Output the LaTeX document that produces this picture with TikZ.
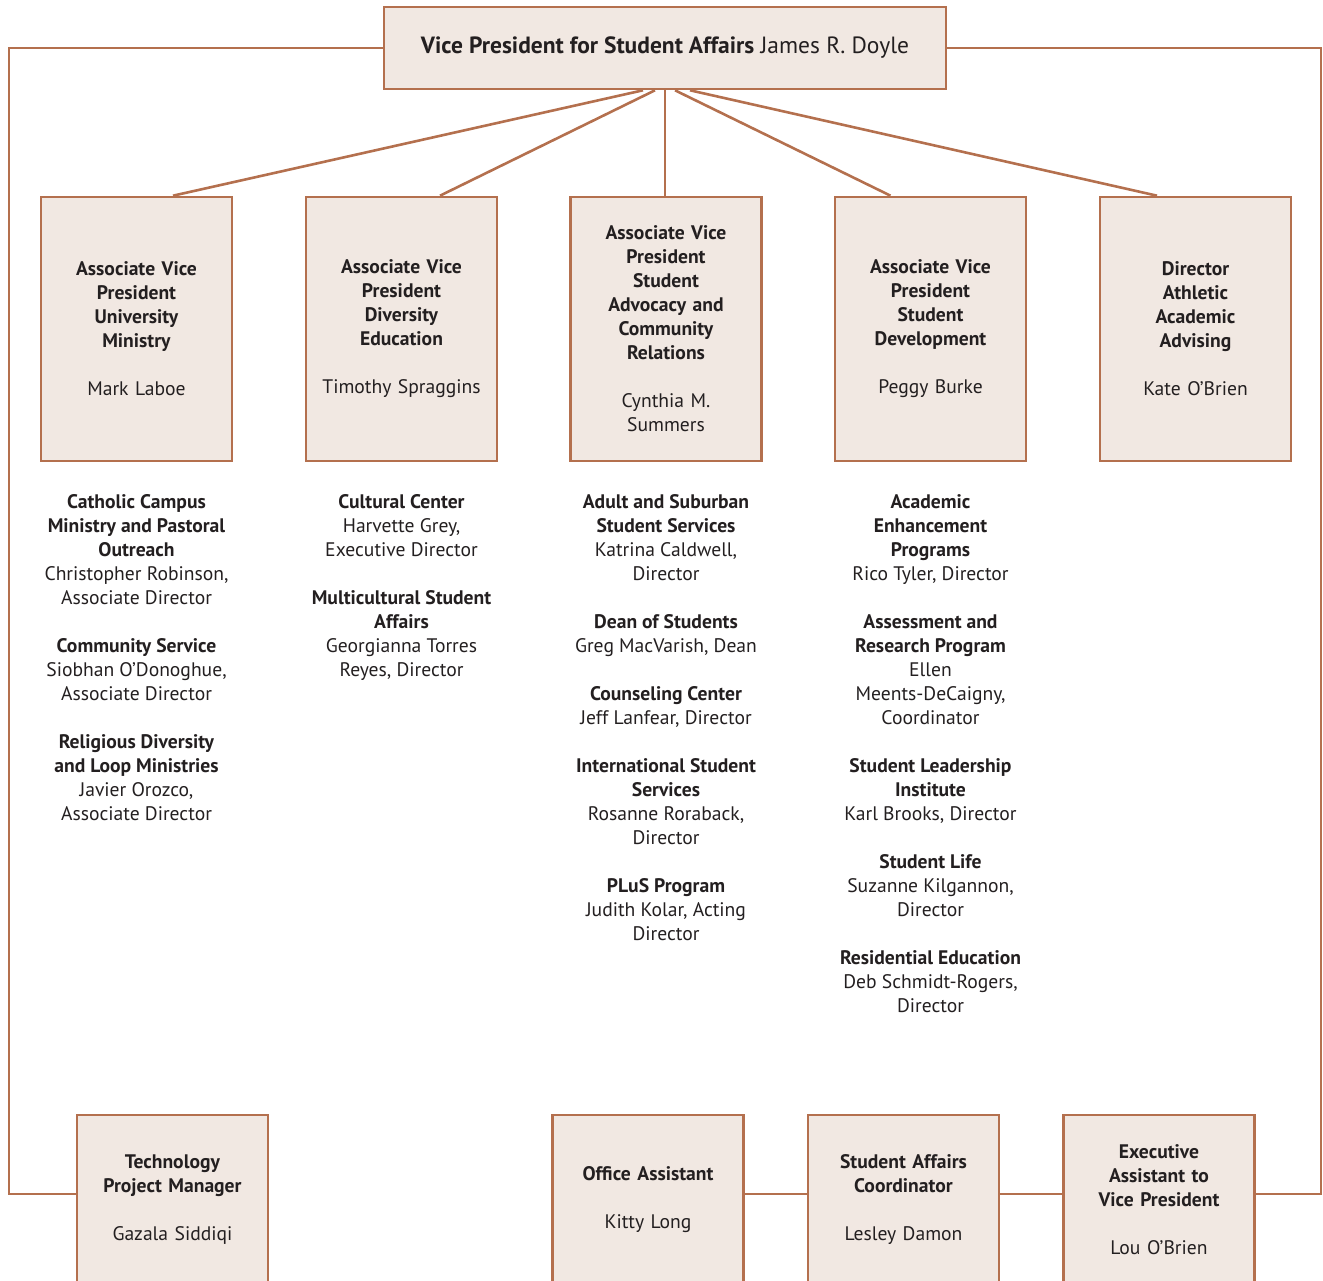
\documentclass[tikz,border=0pt]{standalone}
\usepackage{fontspec}
\setmainfont{PT Sans}
\usetikzlibrary{positioning}

\definecolor{rust}{HTML}{B4704E}
\definecolor{sand}{HTML}{F1E8E2}
\definecolor{ink}{HTML}{231F20}

\tikzset{
  box/.style={draw=rust, fill=sand, line width=2.6pt, align=center, text=ink,
    font=\fontsize{19.6}{24}\selectfont, inner sep=0pt},
  avpbox/.style={box, minimum width=191pt, minimum height=264pt, text width=180pt},
  staffbox/.style={box, minimum width=191pt, minimum height=170pt, text width=180pt},
  unitlist/.style={align=center, text=ink, anchor=north, inner sep=0pt,
    font=\fontsize{19.6}{24}\selectfont},
  link/.style={draw=rust, line width=2.6pt}
}

\begin{document}
\begin{tikzpicture}[x=1pt, y=-1pt]
    \useasboundingbox (0,0) rectangle (1323,1281);
    \clip (0,0) rectangle (1323,1281);

    % Vice President
    \node[box, minimum width=562pt, minimum height=82pt, font=\fontsize{23.5}{28}\selectfont]
      (vp) at (665,48) {\textbf{Vice President for Student Affairs} James R. Doyle};

    % Associate vice presidents and director
    \node[avpbox] (univ) at (136.5,329) {\textbf{Associate Vice}\\\textbf{President}\\\textbf{University}\\\textbf{Ministry}\\[24pt]Mark Laboe};
    \node[avpbox] (div) at (401.5,329) {\textbf{Associate Vice}\\\textbf{President}\\\textbf{Diversity}\\\textbf{Education}\\[24pt]Timothy Spraggins};
    \node[avpbox] (adv) at (666,329) {\textbf{Associate Vice}\\\textbf{President}\\\textbf{Student}\\\textbf{Advocacy and}\\\textbf{Community}\\\textbf{Relations}\\[24pt]Cynthia M.\\Summers};
    \node[avpbox] (dev) at (930.5,329) {\textbf{Associate Vice}\\\textbf{President}\\\textbf{Student}\\\textbf{Development}\\[24pt]Peggy Burke};
    \node[avpbox] (ath) at (1195.5,329) {\textbf{Director}\\\textbf{Athletic}\\\textbf{Academic}\\\textbf{Advising}\\[24pt]Kate O’Brien};

    % Units under each box
    \node[unitlist] (univlist) at (136.5,494) {\textbf{Catholic Campus}\\\textbf{Ministry and Pastoral}\\\textbf{Outreach}\\Christopher Robinson,\\Associate Director\\[24pt]
      \textbf{Community Service}\\Siobhan O’Donoghue,\\Associate Director\\[24pt]
      \textbf{Religious Diversity}\\\textbf{and Loop Ministries}\\Javier Orozco,\\Associate Director};
    \node[unitlist] (divlist) at (401.5,494) {\textbf{Cultural Center}\\Harvette Grey,\\Executive Director\\[24pt]
      \textbf{Multicultural Student}\\\textbf{Affairs}\\Georgianna Torres\\Reyes, Director};
    \node[unitlist] (advlist) at (666,494) {\textbf{Adult and Suburban}\\\textbf{Student Services}\\Katrina Caldwell,\\Director\\[24pt]
      \textbf{Dean of Students}\\Greg MacVarish, Dean\\[24pt]
      \textbf{Counseling Center}\\Jeff Lanfear, Director\\[24pt]
      \textbf{International Student}\\\textbf{Services}\\Rosanne Roraback,\\Director\\[24pt]
      \textbf{PLuS Program}\\Judith Kolar, Acting\\Director};
    \node[unitlist] (devlist) at (930.5,494) {\textbf{Academic}\\\textbf{Enhancement}\\\textbf{Programs}\\Rico Tyler, Director\\[24pt]
      \textbf{Assessment and}\\\textbf{Research Program}\\Ellen\\Meents-DeCaigny,\\Coordinator\\[24pt]
      \textbf{Student Leadership}\\\textbf{Institute}\\Karl Brooks, Director\\[24pt]
      \textbf{Student Life}\\Suzanne Kilgannon,\\Director\\[24pt]
      \textbf{Residential Education}\\Deb Schmidt-Rogers,\\Director};

    % Staff boxes at the bottom
    \node[staffbox] (tech) at (172.5,1200) {\textbf{Technology}\\\textbf{Project Manager}\\[24pt]Gazala Siddiqi};
    \node[staffbox] (office) at (648,1200) {\textbf{Office Assistant}\\[24pt]Kitty Long};
    \node[staffbox] (coord) at (903.5,1200) {\textbf{Student Affairs}\\\textbf{Coordinator}\\[24pt]Lesley Damon};
    \node[staffbox] (exec) at (1159,1200) {\textbf{Executive}\\\textbf{Assistant to}\\\textbf{Vice President}\\[24pt]Lou O’Brien};

    % Lines from the Vice President
    \draw[link] ([xshift=-22pt]vp.south) -- ([xshift=36.5pt]univ.north);
    \draw[link] ([xshift=-10pt]vp.south) -- ([xshift=38.5pt]div.north);
    \draw[link] (vp.south) -- (vp.south |- adv.north);
    \draw[link] ([xshift=10pt]vp.south) -- ([xshift=-40pt]dev.north);
    \draw[link] ([xshift=25pt]vp.south) -- ([xshift=-38.5pt]ath.north);

    % Staff loop
    \coordinate (tl) at (9,48);
    \coordinate (tr) at (1321,48);
    \coordinate (bl) at (9,1194);
    \coordinate (br) at (1321,1194);
    \draw[link] (vp.west |- tl) -- (tl) -- (bl) -- (tech.west |- bl);
    \draw[link] (vp.east |- tr) -- (tr) -- (br) -- (exec.east |- br);
    \draw[link] (office.east |- bl) -- (coord.west |- bl);
    \draw[link] (coord.east |- bl) -- (exec.west |- bl);

\end{tikzpicture}
\end{document}
